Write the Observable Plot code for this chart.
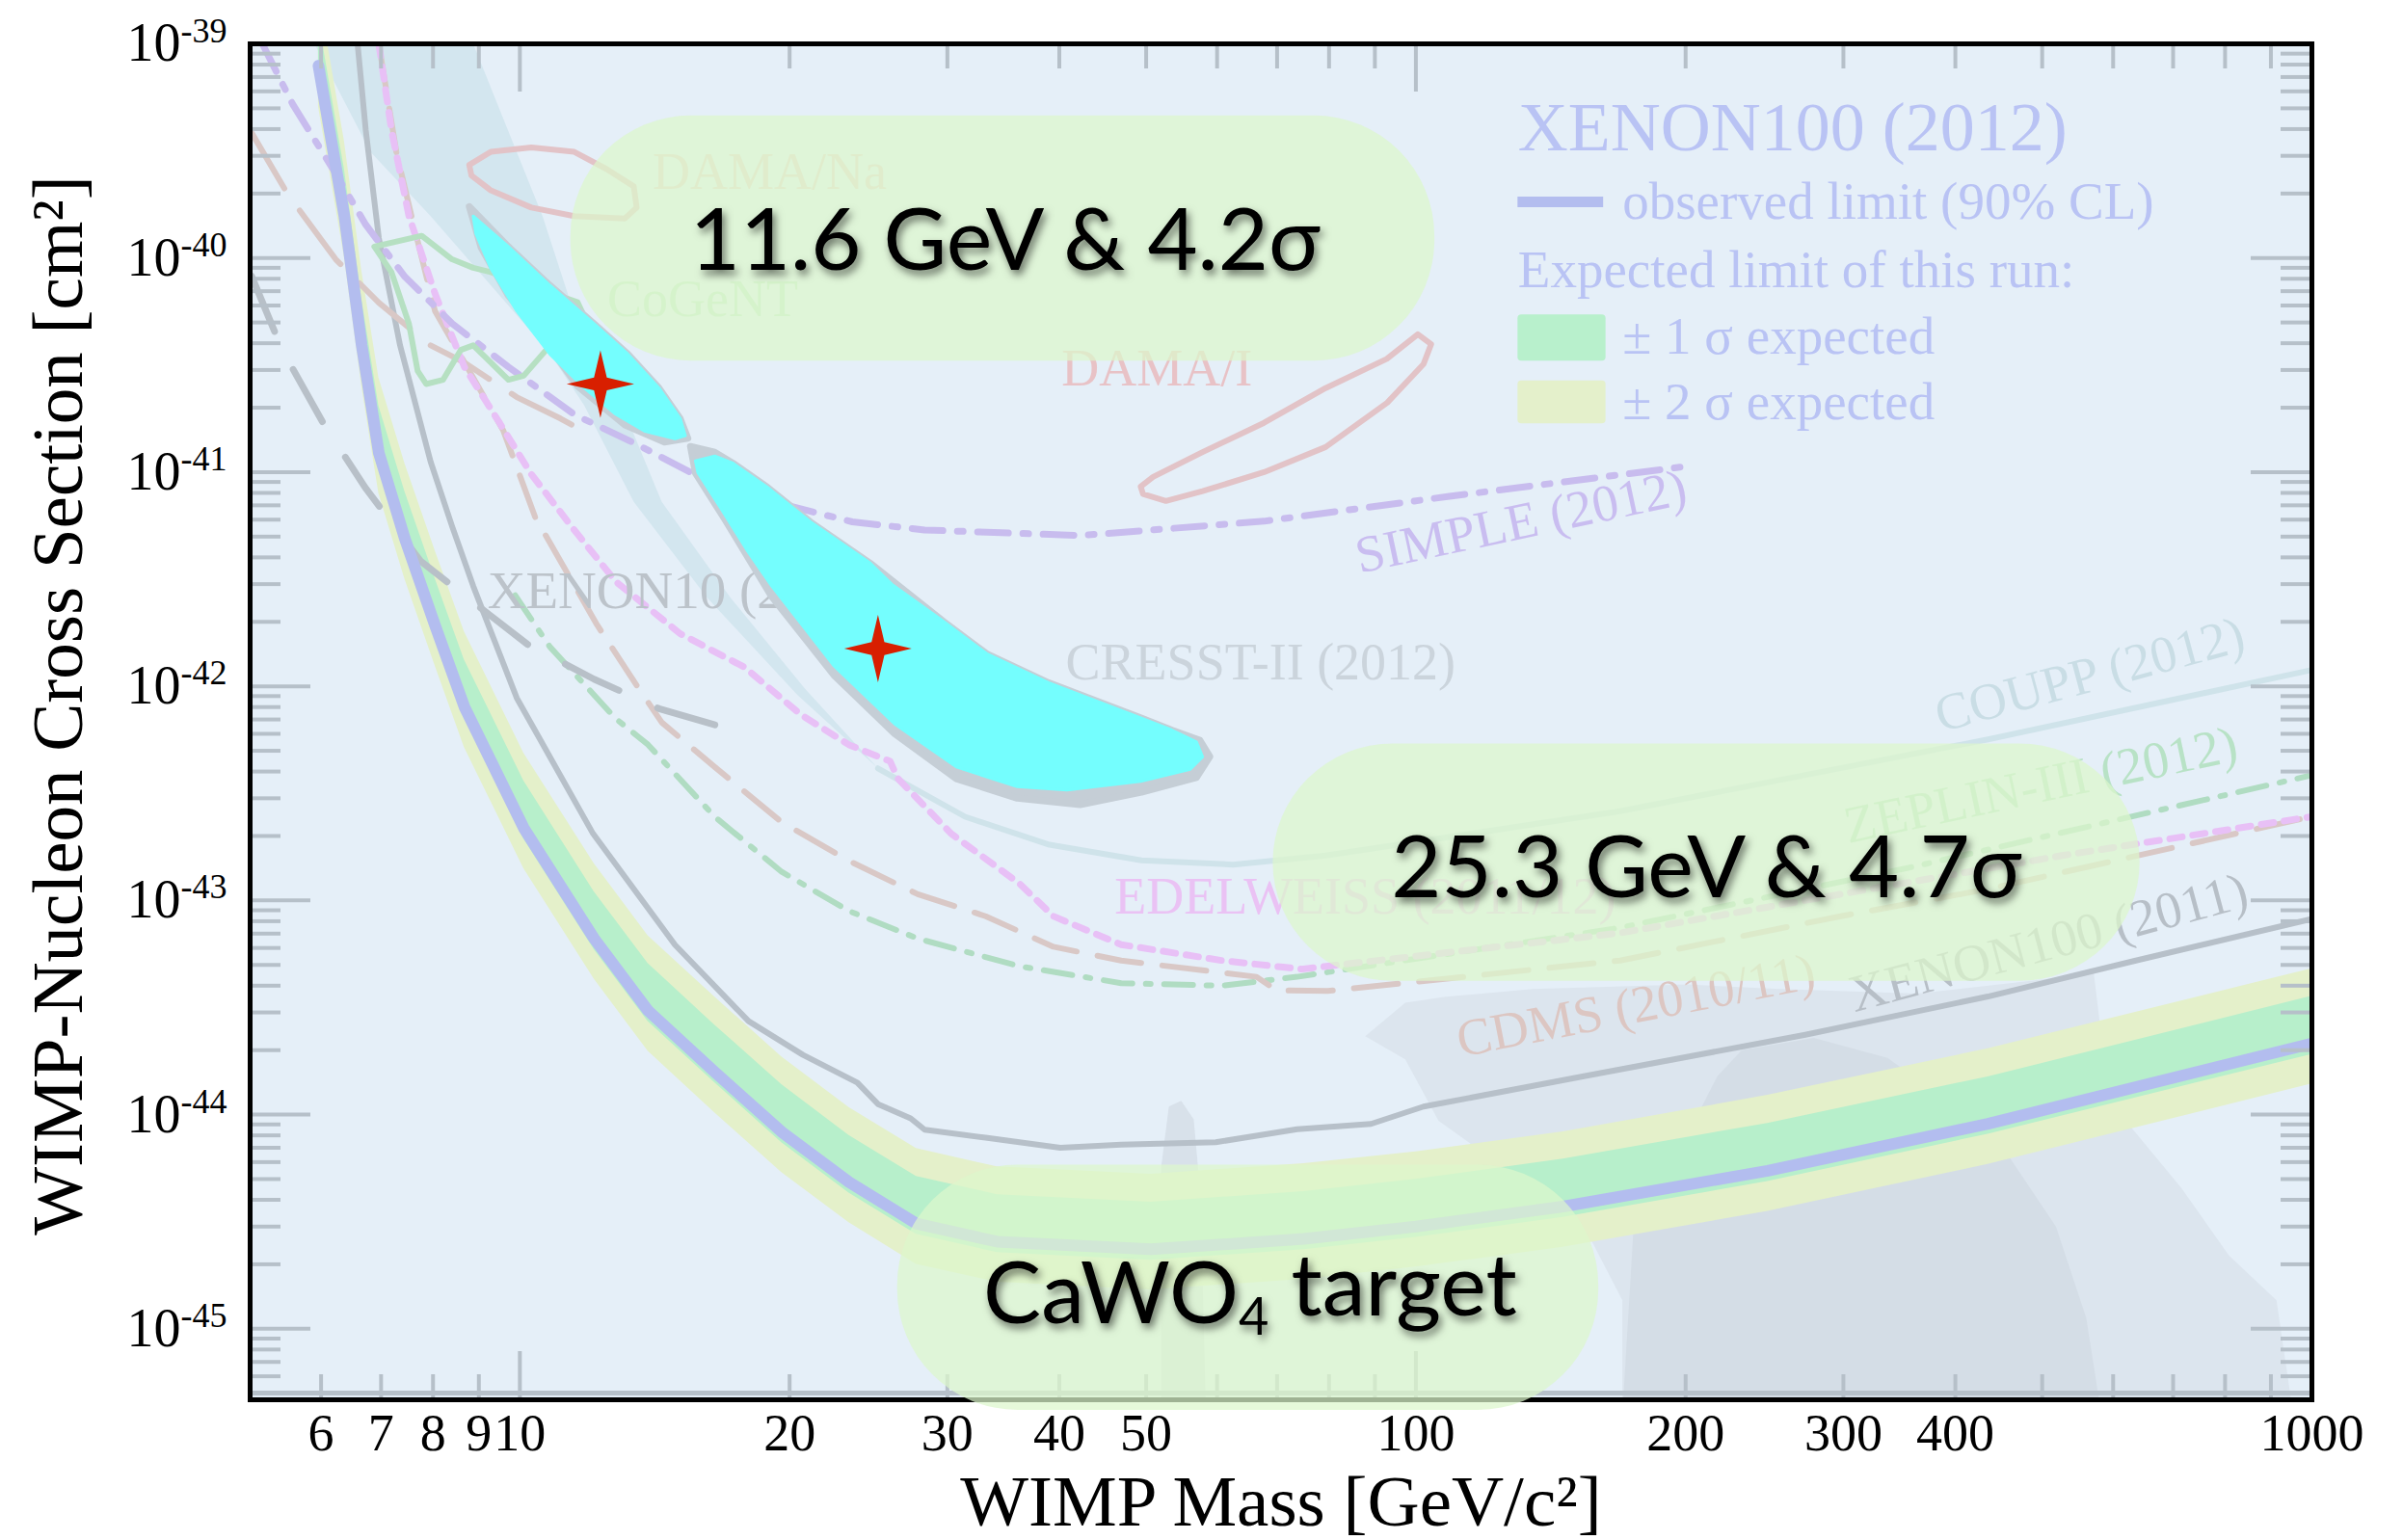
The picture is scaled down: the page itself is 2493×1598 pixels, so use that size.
<!DOCTYPE html>
<html><head><meta charset="utf-8">
<script src="https://cdn.jsdelivr.net/npm/d3@7"></script>
<script src="https://cdn.jsdelivr.net/npm/@observablehq/plot@0.6"></script>
<style>html,body{margin:0;padding:0;background:#fff;}</style>
</head><body><div id="chart"></div>
<script>
// ---------- axes ----------
const xDomain = [5, 1000];
const yDomain = [4.66e-46, 1e-39];
const xTickLabels = [6, 7, 8, 9, 10, 20, 30, 40, 50, 100, 200, 300, 400, 1000];
const xMajorTicks = [10, 100];
const xMinorTicks = [6, 7, 8, 9, 20, 30, 40, 50, 60, 70, 80, 90, 200, 300, 400, 500, 600, 700, 800, 900];
const yTickLabels = [1e-45, 1e-44, 1e-43, 1e-42, 1e-41, 1e-40, 1e-39];
const yDecades = [-46, -45, -44, -43, -42, -41, -40];
const xTitle = "WIMP Mass [GeV/c²]";
const yTitle = "WIMP-Nucleon Cross Section [cm²]";

// ---------- XENON100 (2012) observed limit and expected bands ----------
const obsMass  = [5.96, 6.37, 6.66, 6.96, 7.44, 8.04, 8.67, 10.1, 12.1, 13.9, 16.5, 19.6, 23.3, 27.7, 34.1, 50.6, 75, 100, 146, 247, 435, 1000];
const obsSigma = [7.9e-40, 1.57e-40, 3.91e-41, 1.23e-41, 4.9e-42, 1.93e-42, 8.03e-43, 2.18e-43, 6.65e-44, 3.06e-44, 1.58e-44, 8.3e-45, 4.84e-45, 3.10e-45, 2.55e-45, 2.35e-45, 2.63e-45, 3.0e-45, 3.72e-45, 5.47e-45, 9.06e-45, 2.15e-44];
const band2Hi  = [1.77e-39, 3.52e-40, 8.76e-41, 2.76e-41, 1.10e-41, 4.32e-42, 1.80e-42, 4.88e-43, 1.49e-43, 6.85e-44, 3.54e-44, 1.86e-44, 1.08e-44, 6.94e-45, 5.7e-45, 5.26e-45, 5.9e-45, 6.7e-45, 8.3e-45, 1.23e-44, 2.03e-44, 4.8e-44];
const band1Hi  = [1.31e-39, 2.61e-40, 6.49e-41, 2.04e-41, 8.13e-42, 3.2e-42, 1.33e-42, 3.62e-43, 1.10e-43, 5.08e-44, 2.62e-44, 1.38e-44, 8.0e-45, 5.15e-45, 4.23e-45, 3.9e-45, 4.37e-45, 4.98e-45, 6.2e-45, 9.1e-45, 1.50e-44, 3.57e-44];
const band1Lo  = [7.0e-40, 1.40e-40, 3.48e-41, 1.09e-41, 4.36e-42, 1.72e-42, 7.15e-43, 1.94e-43, 5.9e-44, 2.72e-44, 1.41e-44, 7.4e-45, 4.3e-45, 2.76e-45, 2.27e-45, 2.09e-45, 2.34e-45, 2.67e-45, 3.31e-45, 4.87e-45, 8.1e-45, 1.91e-44];
const band2Lo  = [5.1e-40, 1.01e-40, 2.53e-41, 7.95e-42, 3.17e-42, 1.25e-42, 5.19e-43, 1.41e-43, 4.3e-44, 1.98e-44, 1.02e-44, 5.36e-45, 3.13e-45, 2.0e-45, 1.65e-45, 1.52e-45, 1.7e-45, 1.94e-45, 2.4e-45, 3.53e-45, 5.85e-45, 1.39e-44];

// ---------- other experiments: [mass GeV, sigma cm^2] ----------
const xenon100_2011 = [[6.59,1.0e-39],[6.73,3.95e-40],[6.96,1.24e-40],[7.35,3.91e-41],[7.95,1.12e-41],[8.40,5.6e-42],[8.87,2.94e-42],[9.92,8.83e-43],[12.07,2.05e-43],[14.9,6.2e-44],[18.0,2.73e-44],[20.7,1.9e-44],[23.8,1.41e-44],[25.1,1.12e-44],[27.3,9.6e-45],[28.3,8.5e-45],[33.1,7.8e-45],[40.1,7.0e-45],[46.9,7.24e-45],[59.8,7.43e-45],[73.7,8.55e-45],[89.1,9.05e-45],[102,1.09e-44],[154,1.51e-44],[272,2.36e-44],[435,3.56e-44],[636,5.24e-44],[998,8.18e-44]];
const cdms = [[6.96,1.0e-39],[7.28,3.13e-40],[7.61,1.43e-40],[8.04,5.66e-41],[8.75,3.05e-41],[9.58,1.57e-41],[10.4,6.17e-42],[12.2,1.93e-42],[13.5,1.01e-42],[14.4,6.78e-43],[16.5,4.2e-43],[19.6,2.32e-43],[23.3,1.53e-43],[27.8,1.07e-43],[33.1,8.44e-44],[39.4,6.08e-44],[46.9,5.24e-44],[66.4,4.4e-44],[69.9,3.8e-44],[79.7,3.78e-44],[169,5.24e-44],[298,8.44e-44],[435,1.13e-43],[998,2.46e-43]];
const cdmsLow = [[5.0,3.95e-40],[5.51,1.98e-40],[6.23,9.86e-41],[6.96,6.18e-41],[7.95,3.91e-41],[8.67,3.25e-41],[9.92,2.24e-41],[11.1,1.78e-41],[11.8,1.55e-41]];
const edelweiss = [[6.96,1.0e-39],[7.19,3.95e-40],[7.52,1.57e-40],[8.04,6.83e-41],[8.67,3.1e-41],[9.49,1.7e-41],[10.3,9.77e-42],[11.5,5.37e-42],[12.8,3.08e-42],[15.1,1.76e-42],[17.8,1.23e-42],[20.6,7.36e-43],[23.3,5.33e-43],[25.9,4.46e-43],[26.4,3.72e-43],[30.3,2.05e-43],[36.1,1.2e-43],[39.4,8.44e-44],[46.9,6.22e-44],[60.8,5.24e-44],[74.6,4.78e-44],[169,7.05e-44],[298,1.07e-43],[526,1.62e-43],[998,2.46e-43]];
const zeplin = [[9.88,2.66e-42],[10.8,1.53e-42],[12.8,7.05e-43],[13.9,5.34e-43],[16.5,2.46e-43],[19.6,1.36e-43],[23.3,8.93e-44],[27.8,6.64e-44],[36.1,4.93e-44],[46.9,4.11e-44],[60.8,4.0e-44],[73.7,4.4e-44],[169,7.46e-44],[360,1.44e-43],[998,3.84e-43]];
const simple = [[5.16,1.0e-39],[5.58,5.21e-40],[6.23,2.48e-40],[6.73,1.43e-40],[7.44,8.18e-41],[8.41,4.93e-41],[9.71,3.1e-41],[11.5,1.86e-41],[13.5,1.35e-41],[16.0,9.31e-42],[18.9,7.38e-42],[23.5,5.86e-42],[28.3,5.37e-42],[42.2,5.06e-42],[67.7,5.9e-42],[109,7.71e-42],[199,1.06e-41]];
const xenon10 = [[5.02,8.22e-41],[5.43,3.72e-41],[6.04,1.68e-41],[6.72,8.47e-42],[7.75,3.84e-42],[8.67,2.66e-42],[10.2,1.57e-42],[12.1,1.08e-42],[14.3,7.87e-43],[17.0,6.37e-43]];
const coupp = [[25.1,4.14e-43],[31.4,2.46e-43],[39.0,1.82e-43],[49.4,1.54e-43],[62.5,1.47e-43],[79.3,1.62e-43],[169,2.61e-43],[435,5.65e-43],[998,1.19e-42]];
const couppBand = [[5.90,1.0e-39],[6.81,3.13e-40],[7.95,1.57e-40],[9.28,7.46e-41],[10.8,3.59e-41],[11.8,2.05e-41],[13.4,7.26e-42],[16.2,2.58e-42],[20.4,9.12e-43],[25.1,4.14e-43],[20.8,9.75e-43],[17.2,2.58e-42],[14.4,7.26e-42],[13.0,2.05e-41],[11.6,4.91e-41],[10.6,1.57e-40],[9.70,3.95e-40],[8.87,1.0e-39]];
const cogent = [[6.88,1.13e-40],[7.77,1.27e-40],[8.40,9.86e-41],[8.87,9.0e-41],[9.28,8.59e-41],[11.6,6.21e-41],[11.8,5.33e-41],[10.7,3.72e-41],[10.1,2.82e-41],[9.71,2.70e-41],[9.28,3.25e-41],[8.87,3.91e-41],[8.59,3.72e-41],[8.21,2.70e-41],[7.86,2.58e-41],[7.69,2.97e-41],[7.52,4.93e-41],[7.19,8.59e-41]];
const damaNa = [[8.78,2.72e-40],[9.28,3.13e-40],[10.3,3.28e-40],[11.5,3.13e-40],[12.5,2.60e-40],[13.4,2.16e-40],[13.5,1.72e-40],[13.1,1.53e-40],[11.5,1.57e-40],[10.3,1.72e-40],[9.28,2.07e-40],[8.83,2.43e-40]];
const damaI = [[49.3,8.57e-42],[50.9,9.5e-42],[57.8,1.24e-41],[67.7,1.7e-41],[79.3,2.47e-41],[92.8,3.38e-41],[100.5,4.4e-41],[104,3.96e-41],[102,3.2e-41],[92.9,2.11e-41],[79.3,1.31e-41],[67.7,1.0e-41],[57.8,8.15e-42],[52.6,7.34e-42],[49.6,7.9e-42]];
const cresstM1 = [[8.87,1.57e-40],[9.71,1.13e-40],[10.8,7.46e-41],[12.1,4.93e-41],[13.2,3.56e-41],[14.3,2.47e-41],[15.1,1.78e-41],[15.3,1.48e-41],[14.9,1.43e-41],[13.8,1.55e-41],[12.8,1.86e-41],[11.8,2.47e-41],[10.8,3.56e-41],[9.92,5.66e-41],[9.28,8.95e-41],[8.93,1.30e-40]];
const cresstM1Outline = [[8.78,1.74e-40],[9.71,1.13e-40],[10.8,7.46e-41],[12.1,4.93e-41],[13.2,3.56e-41],[14.3,2.47e-41],[15.1,1.78e-41],[15.4,1.44e-41],[14.5,1.38e-41],[13.1,1.66e-41],[11.6,2.52e-41],[10.6,4.25e-41],[9.70,6.7e-41],[9.05,1.12e-40]];
const cresstM2 = [[15.7,1.13e-41],[16.5,1.19e-41],[17.3,1.10e-41],[18.9,8.49e-42],[21.1,5.86e-42],[24.6,3.76e-42],[26.0,3.0e-42],[29.7,2.01e-42],[33.2,1.42e-42],[38.9,1.04e-42],[49.3,7.13e-43],[53.4,6.25e-43],[56.9,5.5e-43],[57.8,4.68e-43],[56.0,4.1e-43],[49.3,3.6e-43],[40.8,3.28e-43],[35.9,3.4e-43],[30.7,4.2e-43],[26.2,6.67e-43],[22.4,1.25e-42],[19.1,2.94e-42],[17.9,4.36e-42],[16.8,6.68e-42],[15.8,9.94e-42]];
const cresstM2Outline = [[15.5,1.32e-41],[16.5,1.24e-41],[17.3,1.10e-41],[18.9,8.49e-42],[21.1,5.86e-42],[24.6,3.76e-42],[29.7,2.01e-42],[33.2,1.42e-42],[38.9,1.04e-42],[49.3,7.13e-43],[53.4,6.25e-43],[57.4,5.6e-43],[58.9,4.7e-43],[56.9,3.75e-43],[49.4,3.2e-43],[42.2,2.8e-43],[35.9,3.0e-43],[30.7,3.7e-43],[26.2,6.0e-43],[22.4,1.13e-42],[19.1,2.62e-42],[16.9,6.1e-42],[15.7,9.9e-42]];
const bestFits = [[12.3,2.58e-41],[25.1,1.5e-42]];

// background silhouette (image watermark) regions
const shadeLight = [[170,4.0e-46],[170,1.36e-45],[156,2.72e-45],[138,4.25e-45],[106,9.35e-45],[97.3,1.81e-44],[87.8,2.32e-44],[97.3,3.33e-44],[108,3.55e-44],[135,3.86e-44],[201,4.05e-44],[255,3.86e-44],[363,3.67e-44],[571,4.55e-44],[594,1.16e-44],[715,4.54e-45],[808,2.2e-45],[913,1.36e-45],[953,4.0e-46]];
const shadeSpike = [[52.0,4.0e-46],[52.0,5.81e-45],[53.0,1.09e-44],[54.7,1.16e-44],[56.5,9.5e-45],[57.5,4.18e-45],[58.3,4.0e-46]];
const shadeDark = [[170,4.0e-46],[175,3.0e-45],[201,8.07e-45],[217,1.51e-44],[231,2.0e-44],[278,2.28e-44],[336,1.84e-44],[442,8.07e-45],[518,3.0e-45],[560,1.12e-45],[582,4.0e-46]];

// ---------- annotations ----------
const boxMass1 = [11.4, 69.3, 26.4];
const boxMass2 = [105, 643, 160];
const boxSigLo = [3.3e-41, 4.19e-44, 4.16e-46];
const boxSigHi = [4.61e-40, 5.38e-43, 5.81e-45];
const annotText = ["11.6 GeV & 4.2σ", "25.3 GeV & 4.7σ", "CaWO4 target"];
const annotMass = [34.8, 211, 65.3];
const annotSig  = [1.19e-40, 1.39e-43, 1.43e-45];

const labelText = ["DAMA/Na", "CoGeNT", "DAMA/I", "SIMPLE (2012)", "CRESST-II (2012)", "COUPP (2012)", "ZEPLIN-III (2012)", "EDELWEISS (2011/12)", "CDMS (2010/11)", "XENON100 (2011)"];
const labelMass = [19.0, 16.0, 51.4, 131, 67.1, 565, 498, 87.8, 176, 508];
const labelSig  = [2.51e-40, 6.38e-41, 3.05e-41, 5.86e-42, 1.29e-42, 1.13e-42, 3.45e-43, 1.04e-43, 3.22e-44, 6.33e-44];
const labelRot  = [0, 0, 0, -12, 0, -15, -12, 0, -11, -15];
const labelColor = ["#e9cfcc", "#c3e8c9", "#e8c2c6", "#c9bdf0", "#cbd4dc", "#c9dde5", "#b8e2c6", "#eac2f4", "#dcc6c2", "#b7bfc7"];
const xenon10Label = {text: "XENON10 (2011)", m: 9.2, s: 2.79e-42};

const legendTitle = {text: "XENON100 (2012)", m: 130, s: 4.05e-40};
const legendLine  = {m1: 130, m2: 162, s: 1.83e-40};
const legendRows  = [
  {text: "observed limit (90% CL)", m: 170, s: 1.83e-40},
  {text: "Expected limit of this run:", m: 130, s: 8.73e-41},
  {text: "± 1 σ expected", m: 170, s: 4.3e-41},
  {text: "± 2 σ expected", m: 170, s: 2.12e-41}
];
const legendSwatches = [
  {m1: 130, m2: 163, s1: 3.3e-41, s2: 5.42e-41, c: "#b8f0cc"},
  {m1: 130, m2: 163, s1: 1.68e-41, s2: 2.67e-41, c: "#e4f0cb"}
];

// ---------- build ----------
const W = 2493, H = 1598;
const mL = 259, mR = 95, mT = 45, mB = 146;
const pts = a => a.map(([m, s]) => ({m, s}));
const bandTable = obsMass.map((m, i) => ({m, obs: obsSigma[i], lo2: band2Lo[i], hi2: band2Hi[i], lo1: band1Lo[i], hi1: band1Hi[i]}));
const boxes = boxMass1.map((m, i) => ({m1: m, m2: boxMass2[i], s1: boxSigLo[i], s2: boxSigHi[i]}));
const annots = annotText.map((t, i) => ({t, m: annotMass[i], s: annotSig[i]}));
const labels = labelText.map((t, i) => ({t, m: labelMass[i], s: labelSig[i], r: labelRot[i], c: labelColor[i]}));

const pxDecY = (H - mT - mB) / Math.log10(yDomain[1] / yDomain[0]);
const pxDecX = (W - mL - mR) / Math.log10(xDomain[1] / xDomain[0]);
const fy = L => Math.pow(10, L / pxDecY);
const fx = L => Math.pow(10, L / pxDecX);
const yMajor = yDecades.map(e => Math.pow(10, e)).filter(v => v >= yDomain[0]);
const yMinor = [];
yDecades.forEach(e => { for (let k = 2; k <= 9; k++) { const v = k * Math.pow(10, e); if (v > yDomain[0] && v < yDomain[1]) yMinor.push(v); } });

const tickGray = "#b6c0c9";
const line = (data, stroke, w, dash, extra = {}) => Plot.line(pts(data), Object.assign({x: "m", y: "s", stroke, strokeWidth: w, strokeDasharray: dash, clip: true, strokeLinejoin: "round"}, extra));
const poly = (data, opts) => Plot.line(pts(data), Object.assign({x: "m", y: "s", curve: "linear-closed", clip: true, strokeLinejoin: "round"}, opts));

const star4 = {draw(ctx, size) {
  const r = Math.sqrt(size / Math.PI), w = r * 0.19;
  ctx.moveTo(0, -r); ctx.lineTo(w, -w); ctx.lineTo(r, 0); ctx.lineTo(w, w);
  ctx.lineTo(0, r); ctx.lineTo(-w, w); ctx.lineTo(-r, 0); ctx.lineTo(-w, -w); ctx.closePath();
}};

const svg = Plot.plot({
  width: W, height: H,
  marginLeft: mL, marginRight: mR, marginTop: mT, marginBottom: mB,
  x: {type: "log", domain: xDomain},
  y: {type: "log", domain: yDomain},
  color: {type: "identity"},
  style: {fontFamily: "'Liberation Serif', 'Times New Roman', serif", background: "#fff", color: "#000"},
  marks: [
    Plot.frame({fill: "#e5eff8", stroke: null}),
    // watermark shapes
    poly(shadeLight, {fill: "#dce5ee", stroke: "none"}),
    poly(shadeSpike, {fill: "#d8e1ea", stroke: "none"}),
    poly(shadeDark, {fill: "#d4dde6", stroke: "none"}),
    // COUPP shaded band
    poly(couppBand, {fill: "#d3e6ef", stroke: "none"}),
    // expected bands
    Plot.areaY(bandTable, {x: "m", y1: "lo2", y2: "hi2", fill: "#e4f0ca", clip: true}),
    Plot.areaY(bandTable, {x: "m", y1: "lo1", y2: "hi1", fill: "#b7efcb", clip: true}),
    // other limits
    line(coupp, "#cfe3ea", 6, null),
    line(xenon100_2011, "#b7c0c9", 6, null),
    line(zeplin, "#b0dcc2", 6, "30,14,5,14"),
    line(cdms, "#d9c8c6", 6, "46,22"),
    line(cdmsLow, "#d9c8c6", 6, "70,28"),
    line(edelweiss, "#e8c0f6", 7, "13,11"),
    line(simple, "#c8bcee", 7, "32,15,6,15"),
    line(xenon10, "#b8c0c8", 7, "62,44"),
    // contours
    poly(damaNa, {fill: "none", stroke: "#e2c3c7", strokeWidth: 6}),
    poly(damaI, {fill: "none", stroke: "#e2c3c7", strokeWidth: 6}),
    poly(cogent, {fill: "none", stroke: "#b6e0c2", strokeWidth: 6}),
    // curve labels
    Plot.text(labels, {x: "m", y: "s", text: "t", rotate: "r", fill: "c", fontSize: 54, clip: true}),
    Plot.text([xenon10Label], {x: "m", y: "s", text: "text", fill: "#bcc3ca", fontSize: 55, textAnchor: "start"}),
    // CRESST-II regions
    poly(cresstM1Outline, {fill: "#c5ced6", stroke: "#c5ced6", strokeWidth: 7}),
    poly(cresstM2Outline, {fill: "#c5ced6", stroke: "#c5ced6", strokeWidth: 7}),
    poly(cresstM1, {fill: "#74fefe", stroke: "#74fefe", strokeWidth: 3}),
    poly(cresstM2, {fill: "#74fefe", stroke: "#74fefe", strokeWidth: 3}),
    // observed limit
    Plot.line(bandTable, {x: "m", y: "obs", stroke: "#b3bdef", strokeWidth: 12, clip: true}),
    Plot.dot(pts(bestFits), {x: "m", y: "s", symbol: star4, r: 35, fill: "#d81f00", stroke: "none"}),
    // legend
    Plot.text([legendTitle], {x: "m", y: "s", text: "text", fill: "#b9c3f4", fontSize: 72, textAnchor: "start"}),
    Plot.ruleY([legendLine], {y: "s", x1: "m1", x2: "m2", stroke: "#b3bdef", strokeWidth: 11}),
    Plot.rect(legendSwatches, {x1: "m1", x2: "m2", y1: "s1", y2: "s2", fill: "c", rx: 4}),
    Plot.text(legendRows, {x: "m", y: "s", text: "text", fill: "#b9c3f4", fontSize: 55, textAnchor: "start"}),
    // inner ticks
    Plot.ruleX(xMinorTicks, {x: d => d, y1: yDomain[0], y2: yDomain[0] * fy(26), stroke: tickGray, strokeWidth: 4}),
    Plot.ruleX(xMajorTicks, {x: d => d, y1: yDomain[0], y2: yDomain[0] * fy(50), stroke: tickGray, strokeWidth: 4}),
    Plot.ruleX(xMinorTicks, {x: d => d, y1: yDomain[1], y2: yDomain[1] / fy(26), stroke: tickGray, strokeWidth: 4}),
    Plot.ruleX(xMajorTicks, {x: d => d, y1: yDomain[1], y2: yDomain[1] / fy(50), stroke: tickGray, strokeWidth: 4}),
    Plot.ruleY(yMinor, {y: d => d, x1: xDomain[0], x2: xDomain[0] * fx(32), stroke: tickGray, strokeWidth: 4}),
    Plot.ruleY(yMajor, {y: d => d, x1: xDomain[0], x2: xDomain[0] * fx(63), stroke: tickGray, strokeWidth: 4}),
    Plot.ruleY(yMinor, {y: d => d, x1: xDomain[1], x2: xDomain[1] / fx(32), stroke: tickGray, strokeWidth: 4}),
    Plot.ruleY(yMajor, {y: d => d, x1: xDomain[1], x2: xDomain[1] / fx(63), stroke: tickGray, strokeWidth: 4}),
    Plot.ruleY([yDomain[0] * fy(7)], {stroke: tickGray, strokeWidth: 5}),
    Plot.frame({stroke: "#000", strokeWidth: 5}),
    // highlight boxes and annotations
    Plot.rect(boxes, {x1: "m1", x2: "m2", y1: "s1", y2: "s2", rx: 125, fill: "#dcf6cc", fillOpacity: 0.72}),
    Plot.text(annots, {x: "m", y: "s", text: "t", fontSize: 90, fontFamily: "Lato, 'Noto Sans', sans-serif", fill: "#000"}),
    // axes
    Plot.axisX(xTickLabels, {anchor: "bottom", tickSize: 0, tickPadding: 14, fontSize: 54, tickFormat: d => String(d), label: null}),
    Plot.axisY(yTickLabels, {anchor: "left", tickSize: 0, tickPadding: 24, fontSize: 56, tickFormat: d => "10^" + Math.round(Math.log10(d)), label: null}),
    Plot.text([xTitle], {frameAnchor: "bottom", text: d => d, dy: 106, fontSize: 75, lineAnchor: "middle", textAnchor: "middle"}),
    Plot.text([yTitle], {frameAnchor: "left", text: d => d, dx: -199, dy: -17, rotate: -90, fontSize: 75, lineAnchor: "middle", textAnchor: "middle"})
  ]
});

// ---- post-processing: superscripts, subscript, text shadows ----
const ns = "http://www.w3.org/2000/svg";
const defs = document.createElementNS(ns, "defs");
defs.innerHTML = '<filter id="tshadow" x="-10%" y="-30%" width="120%" height="160%"><feDropShadow dx="3" dy="5" stdDeviation="4" flood-color="#000" flood-opacity="0.55"/></filter>';
svg.insertBefore(defs, svg.firstChild);
svg.querySelectorAll('g[aria-label="y-axis tick label"] text').forEach(t => {
  const s = t.textContent;
  if (s.startsWith("10^")) {
    t.textContent = "";
    t.appendChild(document.createTextNode("10"));
    const sup = document.createElementNS(ns, "tspan");
    sup.setAttribute("dy", "-0.55em");
    sup.setAttribute("font-size", "36");
    sup.textContent = s.slice(3);
    t.appendChild(sup);
  }
});
svg.querySelectorAll("text").forEach(t => {
  const s = t.textContent;
  if (annotText.includes(s)) {
    t.setAttribute("filter", "url(#tshadow)");
    if (s === "CaWO4 target") {
      t.textContent = "";
      t.appendChild(document.createTextNode("CaWO"));
      const sub = document.createElementNS(ns, "tspan");
      sub.setAttribute("font-size", "54"); sub.setAttribute("dy", "0.22em"); sub.textContent = "4";
      t.appendChild(sub);
      const rest = document.createElementNS(ns, "tspan");
      rest.setAttribute("dy", "-0.22em"); rest.textContent = " target";
      t.appendChild(rest);
    }
  }
});
document.getElementById("chart").appendChild(svg);
</script></body></html>
